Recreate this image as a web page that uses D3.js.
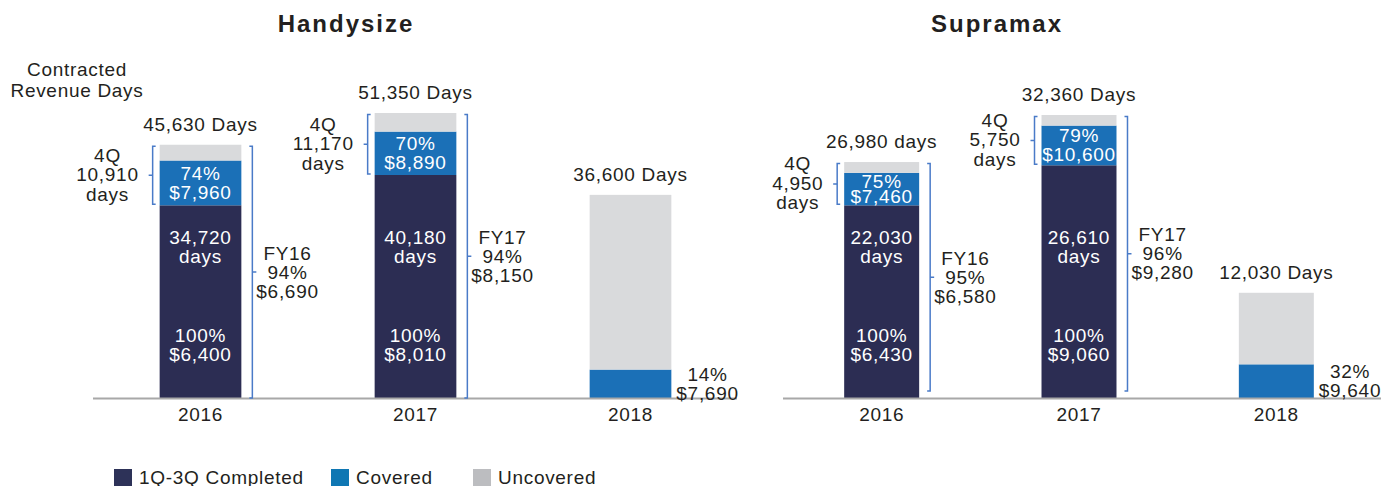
<!DOCTYPE html>
<html>
<head>
<meta charset="utf-8">
<script src="https://cdn.jsdelivr.net/npm/d3@7"></script>
<style>
  body { margin: 0; background: #fff; }
  svg { display: block; font-family: "Liberation Sans", Arial, sans-serif; }
  .lbl { font-size: 19px; letter-spacing: 0.7px; fill: #231f20; }
  .lbl.white { fill: #fff; }
  .title { font-size: 24px; font-weight: bold; letter-spacing: 2px; fill: #231f20; }
</style>
</head>
<body>
<svg id="chart" width="1381" height="486"></svg>
<script>
// categories
const years = ['2016', '2017', '2018']

// Handysize segments (days)
const handyCompleted = [34720, 40180, 0]
const handyCovered = [8070, 7820, 5120]
const handyUncovered = [2840, 3350, 31480]
const handyTotalLabels = ['45,630 Days', '51,350 Days', '36,600 Days']
const handyQ4Labels = [['4Q', '10,910', 'days'], ['4Q', '11,170', 'days'], null]
const handyCoveredLabels = [['74%', '$7,960'], ['70%', '$8,890'], ['14%', '$7,690']]
const handyCompletedLabels = [['34,720', 'days'], ['40,180', 'days'], null]
const handyRateLabels = [['100%', '$6,400'], ['100%', '$8,010'], null]
const handyFYLabels = [['FY16', '94%', '$6,690'], ['FY17', '94%', '$8,150'], null]

// Supramax segments (days)
const supraCompleted = [22030, 26610, 0]
const supraCovered = [3710, 4540, 3850]
const supraUncovered = [1240, 1210, 8180]
const supraTotalLabels = ['26,980 days', '32,360 Days', '12,030 Days']
const supraQ4Labels = [['4Q', '4,950', 'days'], ['4Q', '5,750', 'days'], null]
const supraCoveredLabels = [['75%', '$7,460'], ['79%', '$10,600'], ['32%', '$9,640']]
const supraCompletedLabels = [['22,030', 'days'], ['26,610', 'days'], null]
const supraRateLabels = [['100%', '$6,430'], ['100%', '$9,060'], null]
const supraFYLabels = [['FY16', '95%', '$6,580'], ['FY17', '96%', '$9,280'], null]

const legendItems = ['1Q-3Q Completed', 'Covered', 'Uncovered']

const keys = ['completed', 'covered', 'uncovered']
const barColors = {completed: '#2c2d53', covered: '#1b70b7', uncovered: '#d9dadc'}
const legendColors = ['#2d3258', '#0f77b3', '#bcbdc0']
const bracketColor = '#4a7bc8'
const baseY = 398

const svg = d3.select('#chart')

const panels = [
  {title: 'Handysize', titleX: 346, x0: 93, x1: 738, lineEnd: 737, yMax: 51350, yTop: 113, brInset: 0,
   completed: handyCompleted, covered: handyCovered, uncovered: handyUncovered,
   totals: handyTotalLabels, q4: handyQ4Labels, cov: handyCoveredLabels,
   comp: handyCompletedLabels, rate: handyRateLabels, fy: handyFYLabels},
  {title: 'Supramax', titleX: 997, x0: 783, x1: 1375, lineEnd: 1381, yMax: 32360, yTop: 115, brInset: 7,
   completed: supraCompleted, covered: supraCovered, uncovered: supraUncovered,
   totals: supraTotalLabels, q4: supraQ4Labels, cov: supraCoveredLabels,
   comp: supraCompletedLabels, rate: supraRateLabels, fy: supraFYLabels}
]

// stack of centred text lines
function textBlock(g, lines, cx, firstBase, lh, cls) {
  const t = g.append('g')
  lines.forEach((s, i) => {
    t.append('text')
      .attr('class', cls)
      .attr('x', cx)
      .attr('y', firstBase + i * lh)
      .attr('text-anchor', 'middle')
      .text(s)
  })
  return t
}

function maxWidth(g) {
  let w = 0
  g.selectAll('text').each(function() { w = Math.max(w, this.getComputedTextLength()) })
  return w
}

function drawPanel(p) {
  const rows = years.map((yr, i) => ({year: yr, completed: p.completed[i], covered: p.covered[i], uncovered: p.uncovered[i]}))
  const x = d3.scaleBand().domain(years).range([p.x0, p.x1]).paddingInner(0.62).paddingOuter(0.31)
  const y = d3.scaleLinear().domain([0, p.yMax]).range([baseY, p.yTop])
  const series = d3.stack().keys(keys)(rows)
  const g = svg.append('g')

  g.append('text').attr('class', 'title')
    .attr('x', p.titleX).attr('y', 32)
    .attr('text-anchor', 'middle')
    .text(p.title)

  // bars
  g.selectAll('g.series')
    .data(series)
    .join('g')
    .attr('fill', d => barColors[d.key])
    .selectAll('rect')
    .data(d => d)
    .join('rect')
    .attr('x', d => x(d.data.year))
    .attr('width', x.bandwidth())
    .attr('y', d => y(d[1]))
    .attr('height', d => y(d[0]) - y(d[1]))

  // baseline
  g.append('line')
    .attr('x1', p.x0).attr('x2', p.lineEnd)
    .attr('y1', baseY + 0.5).attr('y2', baseY + 0.5)
    .attr('stroke', '#a8a8a8').attr('stroke-width', 2)

  // year labels
  const xAxis = d3.axisBottom(x).tickSize(0).tickPadding(10)
  const ax = g.append('g').attr('transform', `translate(0,${baseY})`).call(xAxis)
  ax.select('.domain').remove()
  ax.selectAll('text').attr('class', 'lbl').attr('font-size', null).attr('font-family', null)

  rows.forEach((r, i) => {
    const bx = x(r.year)
    const bw = x.bandwidth()
    const cx = bx + bw / 2
    const total = r.completed + r.covered + r.uncovered
    const topY = y(total)
    const darkTop = y(r.completed)
    const blueTop = y(r.completed + r.covered)

    g.append('text').attr('class', 'lbl')
      .attr('x', cx).attr('y', topY - 14)
      .attr('text-anchor', 'middle')
      .text(p.totals[i])

    const segH = darkTop - blueTop
    const cy = (blueTop + darkTop) / 2
    if (r.completed > 0) {
      const lh = Math.min(19, segH * 0.48)
      textBlock(g, p.cov[i], cx, cy - lh / 2 + 6.5, lh, 'lbl white')
    } else {
      // 2018: label sits to the right of the bar
      const t = textBlock(g, p.cov[i], 0, cy - 9.5 + 6.5, 19, 'lbl')
      const w = maxWidth(t)
      t.attr('transform', `translate(${bx + bw + 5 + w / 2},0)`)
    }

    if (p.comp[i]) {
      textBlock(g, p.comp[i], cx, baseY - 154, 19, 'lbl white')
      textBlock(g, p.rate[i], cx, baseY - 56, 19, 'lbl white')
    }

    // 4Q bracket on the left
    if (p.q4[i]) {
      const lx = bx - 7
      const y1 = topY + 1.5, y2 = darkTop - 1
      const mid = (y1 + y2) / 2
      g.append('path')
        .attr('d', `M${lx + 3},${y1}H${lx}V${y2}H${lx + 3}M${lx},${mid}H${lx - 4}`)
        .attr('fill', 'none').attr('stroke', bracketColor).attr('stroke-width', 1.5)
      const t = textBlock(g, p.q4[i], 0, mid - 19.5 + 6, 19.5, 'lbl')
      const w = maxWidth(t)
      t.attr('transform', `translate(${lx - 14 - w / 2},0)`)
    }

    // FY bracket on the right
    if (p.fy[i]) {
      const rx = bx + bw + 11
      const y1 = topY + 1.5, y2 = baseY - p.brInset
      const mid = (y1 + y2) / 2
      g.append('path')
        .attr('d', `M${rx - 3},${y1}H${rx}V${y2}H${rx - 3}M${rx},${mid}H${rx + 4}`)
        .attr('fill', 'none').attr('stroke', bracketColor).attr('stroke-width', 1.5)
      const t = textBlock(g, p.fy[i], 0, mid - 19 + 6.5, 19, 'lbl')
      const w = maxWidth(t)
      t.attr('transform', `translate(${rx + 4 + w / 2},0)`)
    }
  })
}

panels.forEach(drawPanel)

// caption for the left panel
textBlock(svg, ['Contracted', 'Revenue Days'], 77, 76, 21, 'lbl')

// legend
const legendX = [114, 331, 473]
const legend = svg.append('g')
legendItems.forEach((name, i) => {
  legend.append('rect')
    .attr('x', legendX[i]).attr('y', 469)
    .attr('width', 18).attr('height', 18)
    .attr('fill', legendColors[i])
  legend.append('text').attr('class', 'lbl')
    .attr('x', legendX[i] + 25).attr('y', 484)
    .text(name)
})
</script>
</body>
</html>
